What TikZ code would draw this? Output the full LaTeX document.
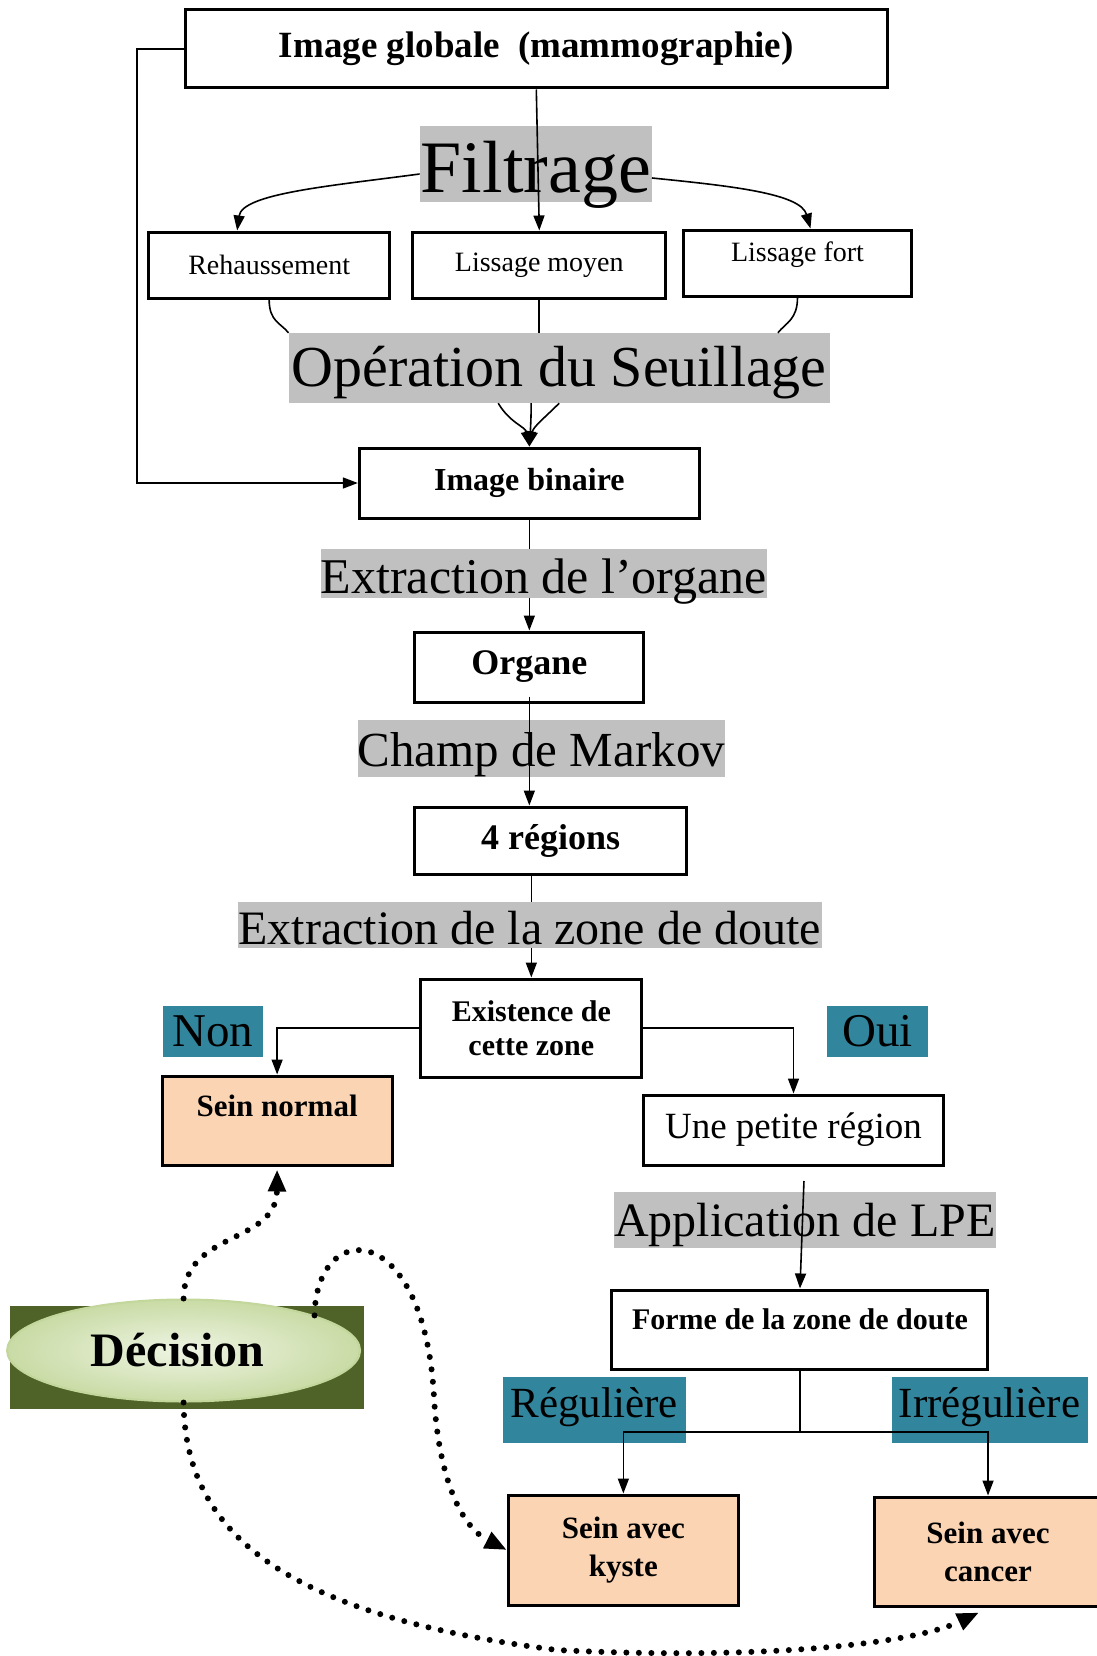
\documentclass[tikz,border=0pt]{standalone}
\usepackage{fontspec}
\setmainfont{Liberation Serif}
\usepackage{tikz}
\usetikzlibrary{arrows.meta,positioning,calc,shapes.geometric}
\definecolor{gris}{HTML}{C0C0C0}
\definecolor{bleu}{HTML}{31859C}
\definecolor{peche}{HTML}{FBD4B4}
\definecolor{decfond}{HTML}{4F6228}
\definecolor{decbord}{HTML}{C3D69B}
\definecolor{decclair}{HTML}{EEF4E3}
\definecolor{decvert}{HTML}{C9DBA5}
\tikzset{
  boite/.style={draw, line width=3pt, inner sep=0pt, align=center},
  fin/.style={boite, fill=peche},
  etape/.style={fill=gris, inner sep=0pt},
  reponse/.style={fill=bleu, inner sep=0pt},
  fil/.style={line width=1.6pt},
  arr/.style={fil, -{Triangle[length=15pt,width=11pt]}},
  pointille/.style={line width=6pt, line cap=round, dash pattern=on 0pt off 12.5pt, -{Triangle[length=22pt,width=17pt]}},
}
\begin{document}
\begin{tikzpicture}[x=0.995pt,y=-1pt]
\useasboundingbox (0,0) rectangle (1102.5,1656);
% boites
\node[boite, minimum width=702.5pt, minimum height=78pt, font=\bfseries\fontsize{37}{44}\selectfont] (globale) at (539,49) {Image globale\ \ (mammographie)};
\node[boite, minimum width=241pt, minimum height=66pt, font=\fontsize{28}{33}\selectfont] (rehaus) at (270.5,265) {Rehaussement};
\node[boite, minimum width=253pt, minimum height=66pt, font=\fontsize{28}{33}\selectfont] (moyen) at (542,265) {Lissage moyen};
\node[boite, minimum width=228pt, text height=31pt, text depth=35pt, font=\fontsize{28}{33}\selectfont] (fort) at (801.5,263) {Lissage fort};
\node[boite, minimum width=340pt, minimum height=70pt, font=\bfseries\fontsize{32}{38}\selectfont] (binaire) at (532,483) {Image binaire};
\node[boite, minimum width=229pt, minimum height=70pt, font=\bfseries\fontsize{36}{42}\selectfont] (organe) at (532,667) {Organe};
\node[boite, minimum width=271.5pt, minimum height=67pt, font=\bfseries\fontsize{36}{42}\selectfont] (regions) at (553.5,840.5) {4 régions};
\node[boite, minimum width=221pt, minimum height=98pt, font=\bfseries\fontsize{30}{34}\selectfont] (existe) at (534,1028) {Existence de\\cette zone};
\node[fin, minimum width=230pt, text height=40pt, text depth=49pt, font=\bfseries\fontsize{31}{36}\selectfont] (normal) at (278.5,1120.5) {Sein normal};
\node[boite, minimum width=299.5pt, minimum height=70pt, font=\fontsize{37}{42}\selectfont] (petite) at (797.5,1130) {Une petite région};
\node[boite, minimum width=376pt, text height=39pt, text depth=40pt, font=\bfseries\fontsize{30}{34}\selectfont] (forme) at (804,1329.5) {Forme de la zone de doute};
\node[fin, minimum width=230pt, minimum height=110pt, font=\bfseries\fontsize{31}{38}\selectfont] (kyste) at (626.5,1550) {Sein avec\\kyste};
\node[fin, minimum width=227pt, minimum height=109pt, font=\bfseries\fontsize{31}{38}\selectfont] (cancer) at (993,1551.5) {Sein avec\\cancer};
% etapes
\node[etape, minimum width=232pt, text height=67pt, text depth=9pt, font=\fontsize{74}{80}\selectfont] (filtrage) at (538.5,164) {Filtrage};
\node[etape, minimum width=541pt, text height=53pt, text depth=17pt, font=\fontsize{58}{64}\selectfont] (seuil) at (562,368) {Opération du Seuillage};
\node[etape, minimum width=431pt, text height=44pt, text depth=4.5pt, font=\fontsize{50}{56}\selectfont] (extorg) at (546.5,573.25) {Extraction de l’organe};
\node[etape, minimum width=360pt, text height=46pt, text depth=11pt, font=\fontsize{49}{55}\selectfont] (markov) at (544,748.5) {Champ de Markov};
\node[etape, minimum width=584pt, text height=42.5pt, text depth=3.5pt, font=\fontsize{48}{54}\selectfont] (extzone) at (532.5,925) {Extraction de la zone de doute};
\node[etape, minimum width=382pt, text height=44.5pt, text depth=11.5pt, font=\fontsize{48}{54}\selectfont] (lpe) at (809,1220) {Application de LPE};
% reponses
\node[reponse, minimum width=99.5pt, minimum height=51pt, font=\fontsize{47}{52}\selectfont] (non) at (214,1031.5) {Non};
\node[reponse, minimum width=101.5pt, minimum height=51pt, font=\fontsize{47}{52}\selectfont] (oui) at (882,1031.5) {Oui};
\node[reponse, minimum width=183pt, text height=40pt, text depth=26pt, font=\fontsize{43}{48}\selectfont] (reg) at (597,1410) {Régulière};
\node[reponse, minimum width=196pt, text height=40pt, text depth=26pt, font=\fontsize{43}{48}\selectfont] (irreg) at (994.5,1410) {Irrégulière};
% decision
\node[fill=decfond, minimum width=354pt, minimum height=103pt, inner sep=0pt] (fond) at (188,1357.5) {};
\node[ellipse, draw=decbord, line width=2pt, inner color=decclair, outer color=decvert, minimum width=353pt, minimum height=102pt, inner sep=0pt, font=\bfseries\fontsize{48}{52}\selectfont] (decision) at (184.5,1350.5) {\hspace*{-12pt}Décision};
% liaisons
\draw[arr] (globale.west) -- ++(-47,0) |- (binaire.west);
\draw[arr] (globale.south) -- (moyen.north);
\draw[arr] ([yshift=-10pt]filtrage.west) .. controls +(-90,12) and +(5,-37) .. ([xshift=-32pt]rehaus.north);
\draw[arr] ([yshift=-14pt]filtrage.east) .. controls +(80,8) and +(-10,-35) .. ([xshift=13pt]fort.north);
\draw[fil] (rehaus.south) .. controls +(0,22) and +(-8,-10) .. (seuil.north west);
\draw[fil] (moyen.south) -- (moyen.south |- seuil.north);
\draw[fil] (fort.south) .. controls +(0,22) and +(8,-10) .. ([xshift=-52pt]seuil.north east);
\draw[arr] ([xshift=-61pt]seuil.south) .. controls +(12,20) and +(-4,-20) .. (binaire.north);
\draw[arr] ([xshift=-28pt]seuil.south) .. controls +(0,15) and +(1,-15) .. (binaire.north);
\draw[arr] (seuil.south) .. controls +(-15,15) and +(4,-20) .. (binaire.north);
\draw[fil] (binaire.south) -- (extorg.north -| binaire.south);
\draw[arr] (extorg.south -| binaire.south) -- (organe.north);
\draw[arr] ([yshift=7pt]organe.south) -- (regions.north -| organe.south);
\draw[fil] (regions.south -| existe.north) -- (extzone.north -| existe.north);
\draw[arr] (extzone.south -| existe.north) -- (existe.north);
\draw[arr] (existe.west) -| (normal.north);
\draw[arr] (existe.east) -| (petite.north);
\coordinate (lpehaut) at (808,1181);
\draw[arr] (lpehaut) -- (forme.north);
\coordinate (partage) at (804,1432);
\draw[fil] (forme.south) -- (partage);
\draw[arr] (partage) -| (kyste.north);
\draw[arr] (partage) -| (cancer.north);
% fleches pointillees
\coordinate (virage) at (436,1394);
\coordinate (creux) at (560,1650);
\draw[pointille] (decision.north) .. controls (185,1230) and (278,1245) .. ([yshift=-3pt]normal.south);
\draw[pointille] (decision.15) .. controls (318,1218) and (425,1218) .. (virage) .. controls (440,1470) and (460,1525) .. (kyste.west);
\draw[pointille] (decision.south) .. controls (186,1530) and (280,1615) .. (creux) .. controls (760,1660) and (915,1645) .. ([shift={(-9pt,-5pt)}]cancer.south);
\end{tikzpicture}
\end{document}
